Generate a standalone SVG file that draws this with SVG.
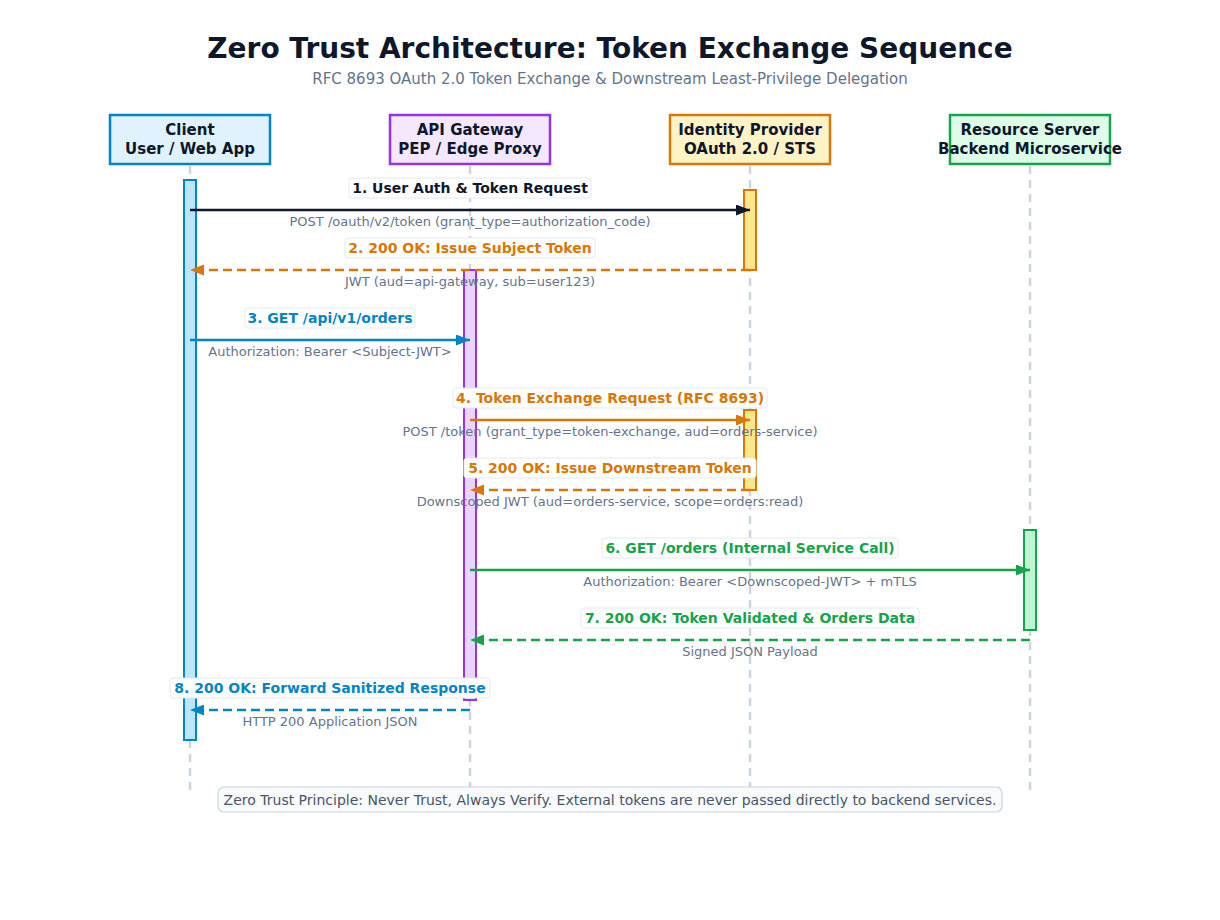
<svg xmlns="http://www.w3.org/2000/svg" width="1220" height="920" viewBox="0 0 1220 920">
<style>
text{font-family:"DejaVu Sans","Liberation Sans",sans-serif;}
.title{font-size:28px;font-weight:bold;fill:#0f172a;text-anchor:middle;}
.sub{font-size:15px;fill:#64748b;text-anchor:middle;}
.hdr{font-size:15px;font-weight:bold;fill:#0f172a;text-anchor:middle;}
.life{stroke:#cbd5e1;stroke-width:2.5;stroke-dasharray:8,6;fill:none;}
.lbl{font-size:14px;font-weight:bold;text-anchor:middle;}
.lblbox{fill:#ffffff;stroke:#e2e8f0;stroke-width:1;}
.note{font-size:13px;fill:#64748b;text-anchor:middle;}
.msg{stroke-width:2.5;fill:none;}
.dash{stroke-dasharray:9,5;}
.foot{font-size:14px;fill:#475569;text-anchor:middle;}
</style>
<defs>
<marker id="aK" viewBox="0 0 14 11" refX="14" refY="5.5" markerWidth="14" markerHeight="11" markerUnits="userSpaceOnUse" orient="auto"><path d="M0,0 L14,5.5 L0,11 z" fill="#0f172a"/></marker>
<marker id="aO" viewBox="0 0 14 11" refX="14" refY="5.5" markerWidth="14" markerHeight="11" markerUnits="userSpaceOnUse" orient="auto"><path d="M0,0 L14,5.5 L0,11 z" fill="#d97706"/></marker>
<marker id="aB" viewBox="0 0 14 11" refX="14" refY="5.5" markerWidth="14" markerHeight="11" markerUnits="userSpaceOnUse" orient="auto"><path d="M0,0 L14,5.5 L0,11 z" fill="#0284c7"/></marker>
<marker id="aG" viewBox="0 0 14 11" refX="14" refY="5.5" markerWidth="14" markerHeight="11" markerUnits="userSpaceOnUse" orient="auto"><path d="M0,0 L14,5.5 L0,11 z" fill="#16a34a"/></marker>
</defs>
<rect width="1220" height="920" fill="#ffffff"/>
<text class="title" x="610" y="58">Zero Trust Architecture: Token Exchange Sequence</text>
<text class="sub" x="610" y="84">RFC 8693 OAuth 2.0 Token Exchange &amp; Downstream Least-Privilege Delegation</text>

<g id="lifelines">
<line class="life" x1="190" y1="166" x2="190" y2="790"/>
<line class="life" x1="470" y1="166" x2="470" y2="790"/>
<line class="life" x1="750" y1="166" x2="750" y2="790"/>
<line class="life" x1="1030" y1="166" x2="1030" y2="790"/>
</g>

<g id="client">
<rect x="110" y="115" width="160" height="49" fill="#e0f2fe" stroke="#0284c7" stroke-width="2.5"/>
<text class="hdr" x="190" y="135">Client</text>
<text class="hdr" x="190" y="154">User / Web App</text>
<rect x="184" y="180" width="12" height="560" fill="#bae6fd" stroke="#0284c7" stroke-width="2"/>
</g>
<g id="gateway">
<rect x="390" y="115" width="160" height="49" fill="#f3e8ff" stroke="#9333ea" stroke-width="2.5"/>
<text class="hdr" x="470" y="135">API Gateway</text>
<text class="hdr" x="470" y="154">PEP / Edge Proxy</text>
<rect x="464" y="270" width="12" height="430" fill="#e9d5ff" stroke="#9333ea" stroke-width="2"/>
</g>
<g id="idp">
<rect x="670" y="115" width="160" height="49" fill="#fef3c7" stroke="#d97706" stroke-width="2.5"/>
<text class="hdr" x="750" y="135">Identity Provider</text>
<text class="hdr" x="750" y="154">OAuth 2.0 / STS</text>
<rect x="744" y="190" width="12" height="80" fill="#fde68a" stroke="#d97706" stroke-width="2"/>
<rect x="744" y="410" width="12" height="80" fill="#fde68a" stroke="#d97706" stroke-width="2"/>
</g>
<g id="resource">
<rect x="950" y="115" width="160" height="49" fill="#dcfce7" stroke="#16a34a" stroke-width="2.5"/>
<text class="hdr" x="1030" y="135">Resource Server</text>
<text class="hdr" x="1030" y="154">Backend Microservice</text>
<rect x="1024" y="530" width="12" height="100" fill="#bbf7d0" stroke="#16a34a" stroke-width="2"/>
</g>

<g id="connectors">
<line class="msg" x1="190" y1="210" x2="750" y2="210" stroke="#0f172a" marker-end="url(#aK)"/>
<rect class="lblbox" x="349" y="178" width="242" height="20" rx="3"/>
<text class="lbl" x="470" y="193" fill="#0f172a">1. User Auth &amp; Token Request</text>
<text class="note" x="470" y="226">POST /oauth/v2/token (grant_type=authorization_code)</text>

<line class="msg dash" x1="750" y1="270" x2="190" y2="270" stroke="#d97706" marker-end="url(#aO)"/>
<rect class="lblbox" x="345" y="238" width="250" height="20" rx="3"/>
<text class="lbl" x="470" y="253" fill="#d97706">2. 200 OK: Issue Subject Token</text>
<text class="note" x="470" y="286">JWT (aud=api-gateway, sub=user123)</text>

<line class="msg" x1="190" y1="340" x2="470" y2="340" stroke="#0284c7" marker-end="url(#aB)"/>
<rect class="lblbox" x="245" y="308" width="170" height="20" rx="3"/>
<text class="lbl" x="330" y="323" fill="#0284c7">3. GET /api/v1/orders</text>
<text class="note" x="330" y="356">Authorization: Bearer &lt;Subject-JWT&gt;</text>

<line class="msg" x1="470" y1="420" x2="750" y2="420" stroke="#d97706" marker-end="url(#aO)"/>
<rect class="lblbox" x="453" y="388" width="314" height="20" rx="3"/>
<text class="lbl" x="610" y="403" fill="#d97706">4. Token Exchange Request (RFC 8693)</text>
<text class="note" x="610" y="436">POST /token (grant_type=token-exchange, aud=orders-service)</text>

<line class="msg dash" x1="750" y1="490" x2="470" y2="490" stroke="#d97706" marker-end="url(#aO)"/>
<rect class="lblbox" x="464" y="458" width="292" height="20" rx="3"/>
<text class="lbl" x="610" y="473" fill="#d97706">5. 200 OK: Issue Downstream Token</text>
<text class="note" x="610" y="506">Downscoped JWT (aud=orders-service, scope=orders:read)</text>

<line class="msg" x1="470" y1="570" x2="1030" y2="570" stroke="#16a34a" marker-end="url(#aG)"/>
<rect class="lblbox" x="602" y="538" width="296" height="20" rx="3"/>
<text class="lbl" x="750" y="553" fill="#16a34a">6. GET /orders (Internal Service Call)</text>
<text class="note" x="750" y="586">Authorization: Bearer &lt;Downscoped-JWT&gt; + mTLS</text>

<line class="msg dash" x1="1030" y1="640" x2="470" y2="640" stroke="#16a34a" marker-end="url(#aG)"/>
<rect class="lblbox" x="581" y="608" width="338" height="20" rx="3"/>
<text class="lbl" x="750" y="623" fill="#16a34a">7. 200 OK: Token Validated &amp; Orders Data</text>
<text class="note" x="750" y="656">Signed JSON Payload</text>

<line class="msg dash" x1="470" y1="710" x2="190" y2="710" stroke="#0284c7" marker-end="url(#aB)"/>
<rect class="lblbox" x="170" y="678" width="320" height="20" rx="3"/>
<text class="lbl" x="330" y="693" fill="#0284c7">8. 200 OK: Forward Sanitized Response</text>
<text class="note" x="330" y="726">HTTP 200 Application JSON</text>
</g>

<g id="footer">
<rect x="218" y="787" width="784" height="25" rx="6" fill="#f8fafc" stroke="#cbd5e1" stroke-width="1.2"/>
<text class="foot" x="610" y="805">Zero Trust Principle: Never Trust, Always Verify. External tokens are never passed directly to backend services.</text>
</g>
</svg>
